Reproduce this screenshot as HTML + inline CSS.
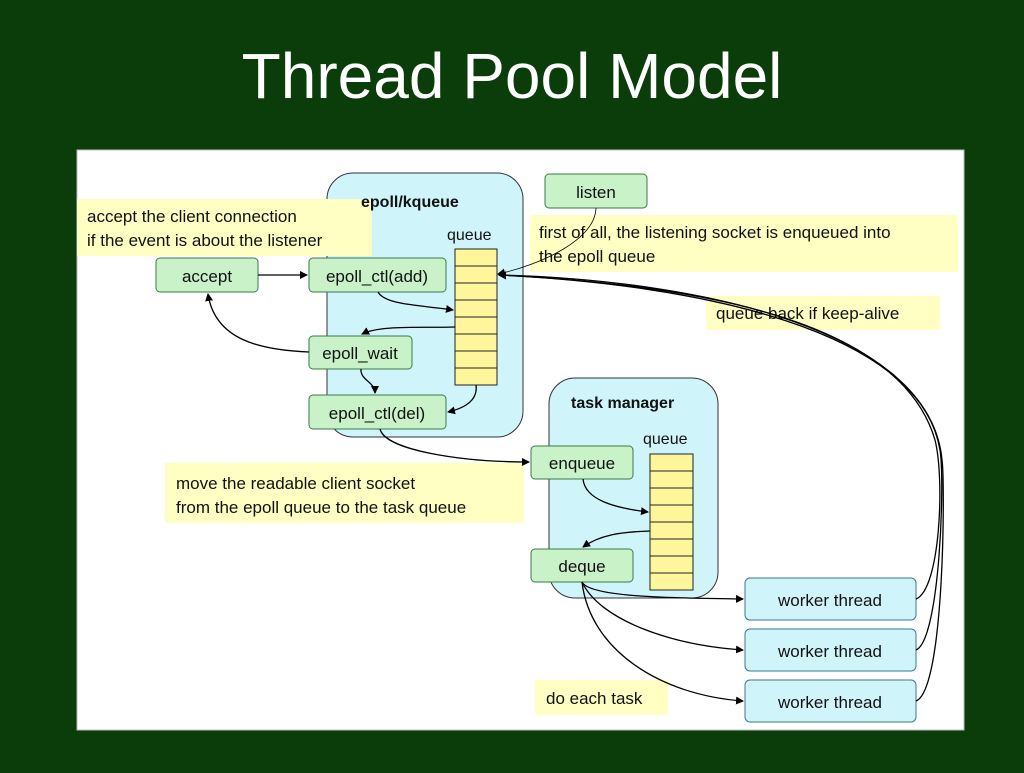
<!DOCTYPE html>
<html><head><style>
body{margin:0;background:#0b3d0b;width:1024px;height:768px;overflow:hidden;font-family:"Liberation Sans",sans-serif}
</style></head><body>
<svg width="1024" height="768" xmlns="http://www.w3.org/2000/svg" font-family="Liberation Sans, sans-serif">
<defs><marker id="a" markerWidth="8" markerHeight="8" refX="7" refY="4" orient="auto" markerUnits="userSpaceOnUse"><path d="M0,0 L8,4 L0,8 z" fill="#000"/></marker></defs>
<rect width="1024" height="768" fill="#0b3d0b"/>
<text x="512" y="98" font-size="64" fill="#fff" text-anchor="middle">Thread Pool Model</text>
<rect x="77" y="150" width="887" height="580" fill="#fff" stroke="#bbb"/>
<!-- containers -->
<rect x="327" y="173" width="196" height="264" rx="26" fill="#cff5fb" stroke="#333"/>
<rect x="549" y="378" width="169" height="220" rx="26" fill="#cff5fb" stroke="#333"/>
<!-- notes -->
<g fill="#ffffc4">
<rect x="77" y="199" width="295" height="57"/>
<rect x="530" y="215" width="428" height="57"/>
<rect x="706" y="296" width="234" height="34"/>
<rect x="165" y="463" width="359" height="60"/>
<rect x="535" y="680" width="133" height="35"/>
</g>
<g font-size="17" fill="#111">
<text x="87" y="222">accept the client connection</text>
<text x="87" y="246">if the event is about the listener</text>
<text x="539" y="238">first of all, the listening socket is enqueued into</text>
<text x="539" y="262">the epoll queue</text>
<text x="716" y="319">queue back if keep-alive</text>
<text x="176" y="489">move the readable client socket</text>
<text x="176" y="513">from the epoll queue to the task queue</text>
<text x="546" y="704">do each task</text>
</g>
<text x="361" y="207" font-size="16" font-weight="bold" fill="#111">epoll/kqueue</text>
<text x="571" y="408" font-size="16" font-weight="bold" fill="#111">task manager</text>
<text x="447" y="240" font-size="16" fill="#111">queue</text>
<text x="643" y="444" font-size="16" fill="#111">queue</text>
<!-- queues -->
<g fill="#fff59a" stroke="#222">
<rect x="455" y="249" width="42" height="136"/>
<rect x="650" y="454" width="43" height="136"/>
</g>
<g stroke="#222">
<path d="M455,266h42M455,283h42M455,300h42M455,317h42M455,334h42M455,351h42M455,368h42"/>
<path d="M650,471h43M650,488h43M650,505h43M650,522h43M650,539h43M650,556h43M650,573h43"/>
</g>
<!-- green nodes -->
<g fill="#c9f2c9" stroke="#3a7a4a">
<rect x="156" y="258" width="102" height="34" rx="4"/>
<rect x="309" y="258" width="137" height="34" rx="4"/>
<rect x="309" y="336" width="103" height="33" rx="4"/>
<rect x="309" y="395" width="137" height="34" rx="4"/>
<rect x="545" y="174" width="102" height="34" rx="4"/>
<rect x="531" y="446" width="102" height="33" rx="4"/>
<rect x="531" y="549" width="102" height="33" rx="4"/>
</g>
<g fill="#cff5fb" stroke="#3a7a8a">
<rect x="745" y="578" width="171" height="42" rx="5"/>
<rect x="745" y="629" width="171" height="42" rx="5"/>
<rect x="745" y="680" width="171" height="42" rx="5"/>
</g>
<g font-size="17" fill="#111" text-anchor="middle">
<text x="207" y="282">accept</text>
<text x="377" y="282">epoll_ctl(add)</text>
<text x="360" y="359">epoll_wait</text>
<text x="377" y="419">epoll_ctl(del)</text>
<text x="596" y="198">listen</text>
<text x="582" y="469">enqueue</text>
<text x="582" y="572">deque</text>
<text x="830" y="606">worker thread</text>
<text x="830" y="657">worker thread</text>
<text x="830" y="708">worker thread</text>
</g>
<!-- connectors -->
<g fill="none" stroke="#000" stroke-width="1.3" marker-end="url(#a)">
<path d="M258,275 H307"/>
<path d="M309,352 C260,350 215,340 208,294"/>
<path d="M378,292 C385,305 420,305 453,310"/>
<path d="M455,327 C420,328 380,325 362,334"/>
<path d="M361,369 C360,380 375,382 375,393"/>
<path d="M476,385 C478,400 465,408 448,412"/>
<path d="M380,429 C385,450 460,462 529,462"/>
<path d="M583,479 C585,500 615,508 648,512"/>
<path d="M650,531 C620,532 600,535 583,547"/>
<path d="M582,582 C590,598 680,598 743,599"/>
<path d="M582,582 C600,620 670,645 743,650"/>
<path d="M582,582 C590,650 660,695 743,701"/>
<path d="M596,208 C595,240 540,265 498,274" stroke-width="0.8"/>
<path d="M916,599 C940,590 945,480 935,440 C900,320 700,285 499,275"/>
<path d="M916,650 C940,640 945,480 940,450 C920,330 700,285 499,275"/>
<path d="M916,701 C945,690 945,480 942,460 C930,330 700,280 499,275"/>
</g>
</svg>
</body></html>
